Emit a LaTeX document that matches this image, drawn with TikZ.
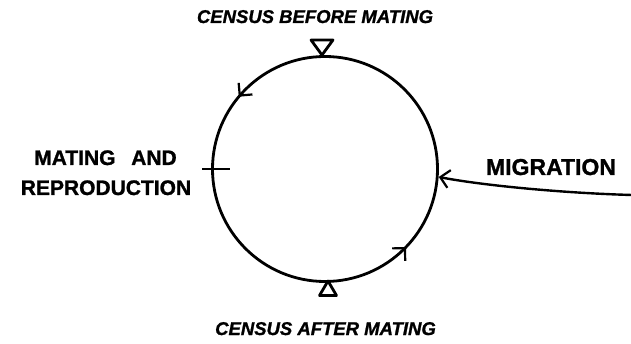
\documentclass[tikz,border=0pt]{standalone}
\usepackage{fontspec}
\setmainfont{Liberation Sans}[BoldFeatures={FakeBold=1.2},BoldItalicFeatures={FakeBold=1.2}]
\usetikzlibrary{arrows.meta,decorations.markings}
\begin{document}
\begin{tikzpicture}[x=1pt,y=1pt,
  ink/.style={line width=2.8pt,black},
  barb/.tip={Straight Barb[length=9pt,width=18pt,line width=2.2pt]},
  caps/.style={font=\fontsize{21}{21}\selectfont\bfseries,inner sep=0pt},
  census/.style={font=\fontsize{18.5}{18.5}\selectfont\bfseries\itshape,inner sep=0pt,anchor=base}]
\useasboundingbox (0,0) rectangle (631,-344);
\coordinate (c) at (325,-169);
% cycle
\draw[ink,postaction={decorate},decoration={markings,
  mark=at position 0.389 with {\arrow{barb}},
  mark=at position 0.878 with {\arrow{barb}}}]
  (c) circle[radius=112.5];
% census markers
\draw[ink,line join=round] (311,-40) -- (333,-40) -- (322,-55) -- cycle;
\draw[ink,line join=round] (319.5,-295.5) -- (336.5,-295.5) -- (328,-281) -- cycle;
% mating tick
\draw[ink] (202,-169) -- (230,-169);
% labels
\node[census] (before) at (315,-23) {CENSUS BEFORE MATING};
\node[census] (after) at (325.5,-335) {CENSUS AFTER MATING};
\node[caps,anchor=base] (mat1) at (105.5,-165) {MATING\hspace{0.75em}AND};
\node[caps,anchor=base] (mat2) at (106,-195) {REPRODUCTION};
\node[caps,anchor=base,font=\fontsize{23}{23}\selectfont\bfseries] (mig) at (551,-175) {MIGRATION};
% migration arrow
\coordinate (migstart) at (632,-195);
\draw[ink,line width=2.4pt,-barb]
  (migstart) .. controls (560,-193) and (480,-185) .. ([shift={(-4:114)}]c);
\end{tikzpicture}
\end{document}
